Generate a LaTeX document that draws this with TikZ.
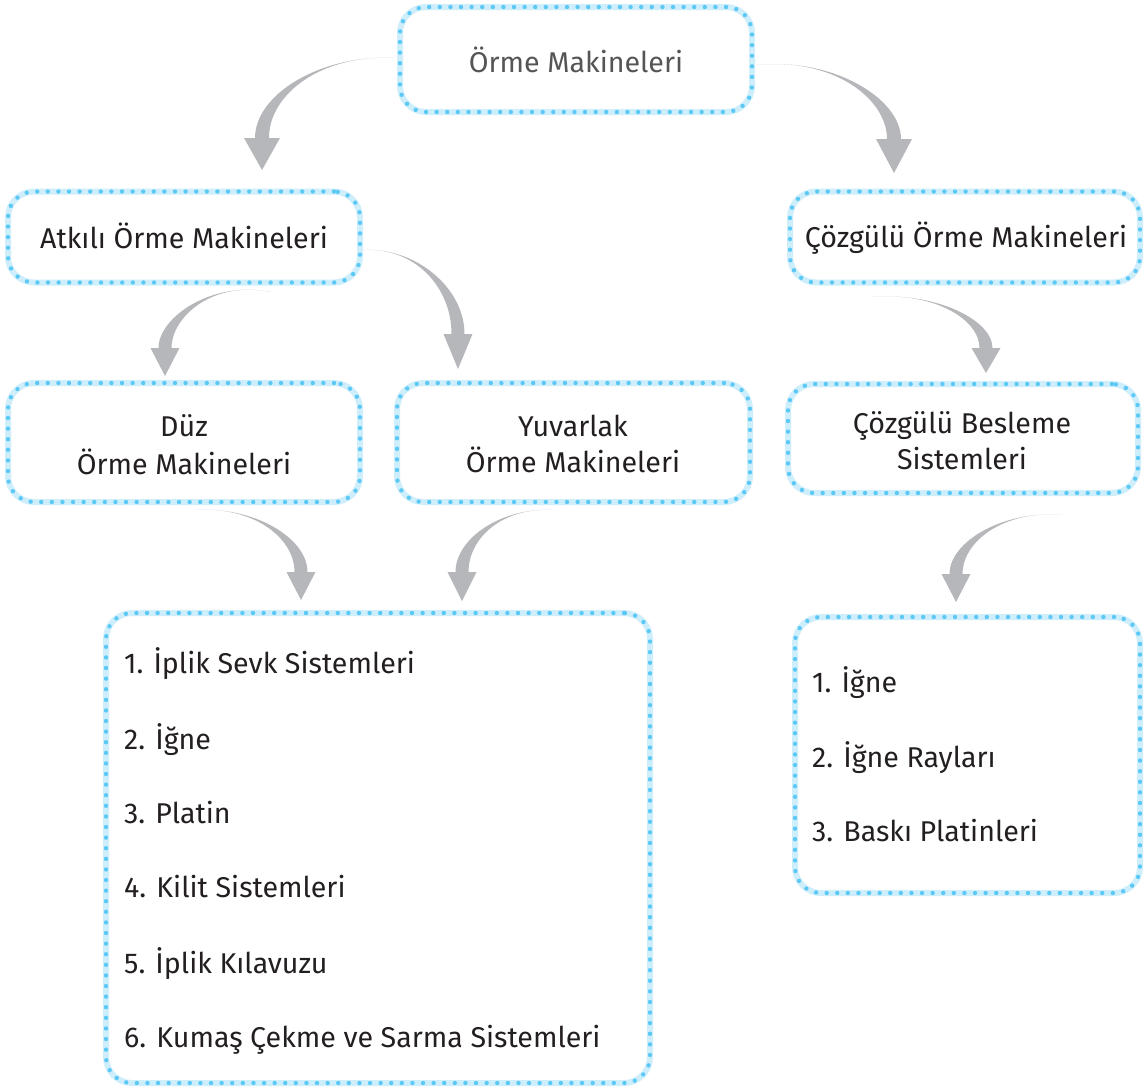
\documentclass[tikz,border=0pt]{standalone}
\usepackage{fontspec}
\setmainfont{Fira Sans}
\usetikzlibrary{calc}
\definecolor{band}{HTML}{CFEEFC}
\definecolor{dots}{HTML}{5CC9F5}
\definecolor{arr}{HTML}{B6B7BA}
\definecolor{ink}{HTML}{231F20}
\definecolor{inkg}{HTML}{555555}
\tikzset{
 box/.style={draw=band, line width=6pt, rounded corners=26pt, fill=white, inner sep=0pt,
   postaction={draw=dots, line width=4.4pt, line cap=round, dash pattern=on 0pt off 10.6pt}},
 txt/.style={font=\fontsize{28.6}{37}\selectfont, text=ink, inner sep=0pt, anchor=base},
 item/.style={txt, anchor=base west},
}
% #1 start, #2 head base, #3 tip, #4 half head width, #5 half shaft width, #6 rise of the tail
\newcommand\taparrow[6]{%
 \fill[arr] let \p1=(#1), \p2=(#2), \p3=(#3) in
   (\p1) .. controls ({\x1+0.552*(\x2-\x1)},{\y1+#6}) and ({\x2-#5},{\y2+0.552*(\y1-\y2)}) .. ({\x2-#5},\y2)
   -- ({\x2-#4},\y2) -- (\p3) -- ({\x2+#4},\y2) -- ({\x2+#5},\y2)
   .. controls ({\x2+#5},{\y2+0.552*(\y1-\y2)}) and ({\x1+0.552*(\x2-\x1)},{\y1+#6}) .. (\p1) -- cycle;}
\begin{document}
\begin{tikzpicture}[x=1pt,y=-1pt]
\useasboundingbox (0,0) rectangle (1148,1088);
% arrow end points
\coordinate (s1) at (395,58);   \coordinate (b1) at (262,138); \coordinate (t1) at (262,170);
\coordinate (s2) at (756,65);   \coordinate (b2) at (894,139); \coordinate (t2) at (894,173);
\coordinate (s3) at (271,292);  \coordinate (b3) at (165,348); \coordinate (t3) at (165,376);
\coordinate (s4) at (363,250);  \coordinate (b4) at (458,334); \coordinate (t4) at (458,369);
\coordinate (s5) at (195,510);  \coordinate (b5) at (301,572); \coordinate (t5) at (301,600);
\coordinate (s6) at (553,510);  \coordinate (b6) at (462,572); \coordinate (t6) at (462,601);
\coordinate (s7) at (873,297);  \coordinate (b7) at (986,348); \coordinate (t7) at (986,373);
\coordinate (s8) at (1062,515); \coordinate (b8) at (956,574); \coordinate (t8) at (956,602);
\taparrow{s1}{b1}{t1}{18}{7}{4}
\taparrow{s2}{b2}{t2}{18}{7}{8}
\taparrow{s3}{b3}{t3}{14.5}{6.5}{12}
\taparrow{s4}{b4}{t4}{14.5}{6.5}{3}
\taparrow{s5}{b5}{t5}{14.5}{6.5}{4}
\taparrow{s6}{b6}{t6}{14.5}{6.5}{3}
\taparrow{s7}{b7}{t7}{14.5}{6.5}{5}
\taparrow{s8}{b8}{t8}{14.5}{6.5}{5}
% boxes
\node[box, minimum width=352pt, minimum height=105pt] (top) at (576,59.5) {};
\node[box, minimum width=352pt, minimum height=91pt] (atk) at (184,237) {};
\node[box, minimum width=350pt, minimum height=91pt] (coz) at (965,237) {};
\node[box, minimum width=352pt, minimum height=119pt] (duz) at (184,442.5) {};
\node[box, minimum width=353pt, minimum height=119pt] (yuv) at (573.5,442.5) {};
\node[box, minimum width=350pt, minimum height=109pt] (bes) at (963,438.5) {};
\node[box, minimum width=544pt, minimum height=470pt] (big) at (378,848) {};
\node[box, minimum width=345pt, minimum height=276pt] (rbx) at (967.5,755) {};
% texts
\node[txt, text=inkg] (topt) at (576,72) {Örme Makineleri};
\node[txt] (atkt) at (184,248) {Atkılı Örme Makineleri};
\node[txt] (cozt) at (966,247) {Çözgülü Örme Makineleri};
\node[txt] (duz1) at (184,436) {Düz};
\node[txt] (duz2) at (184,474) {Örme Makineleri};
\node[txt] (yuv1) at (573,436) {Yuvarlak};
\node[txt] (yuv2) at (573,472) {Örme Makineleri};
\node[txt] (bes1) at (962,433) {Çözgülü Besleme};
\node[txt] (bes2) at (962,469) {Sistemleri};
\node[item] (i1) at (124,673) {1. İplik Sevk Sistemleri};
\node[item] (i2) at (124,749) {2. İğne};
\node[item] (i3) at (124,823) {3. Platin};
\node[item] (i4) at (124,897) {4. Kilit Sistemleri};
\node[item] (i5) at (124,973) {5. İplik Kılavuzu};
\node[item] (i6) at (124,1047) {6. Kumaş Çekme ve Sarma Sistemleri};
\node[item] (r1) at (812,692) {1. İğne};
\node[item] (r2) at (812,767) {2. İğne Rayları};
\node[item] (r3) at (812,841) {3. Baskı Platinleri};
\end{tikzpicture}
\end{document}
